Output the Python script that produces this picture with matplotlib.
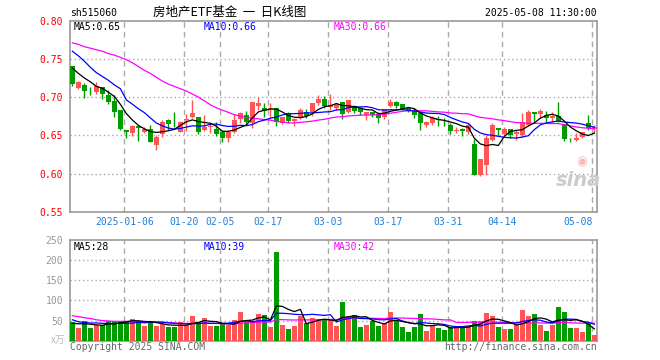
''' sina style daily k-line chart for 515060'''
import matplotlib
matplotlib.use('Agg')
import matplotlib.pyplot as plt
import numpy as np
import pandas as pd

RED = '#ff5555'
GREEN = '#009c00'

# daily prices 2024-12-23 .. 2025-05-08
opens = [0.7408, 0.7120, 0.7159, 0.7110, 0.7071, 0.7133, 0.7028, 0.6949, 0.6831, 0.6568,
         0.6533, 0.6616, 0.6542, 0.6581, 0.6372, 0.6520, 0.6695, 0.6678, 0.6542, 0.6700,
         0.6739, 0.6739, 0.6573, 0.6608, 0.6581, 0.6538, 0.6468, 0.6542, 0.6708, 0.6765,
         0.6660, 0.6888, 0.6857, 0.6840, 0.6857, 0.6665, 0.6791, 0.6686, 0.6721, 0.6800,
         0.6809, 0.6927, 0.6975, 0.6875, 0.6861, 0.6931, 0.6809, 0.6888, 0.6861, 0.6765,
         0.6800, 0.6778, 0.6743, 0.6883, 0.6931, 0.6905, 0.6853, 0.6818, 0.6787, 0.6634,
         0.6660, 0.6713, 0.6713, 0.6638, 0.6560, 0.6581, 0.6538, 0.6385, 0.5987, 0.6109,
         0.6437, 0.6599, 0.6512, 0.6581, 0.6512, 0.6503, 0.6634, 0.6800, 0.6778, 0.6765,
         0.6721, 0.6752, 0.6643, 0.6438, 0.6437, 0.6481, 0.6665, 0.6581]
highs = [0.7410, 0.7211, 0.7181, 0.7137, 0.7194, 0.7135, 0.7093, 0.7028, 0.6833, 0.6570,
         0.6634, 0.6625, 0.6608, 0.6634, 0.6503, 0.6695, 0.6713, 0.6800, 0.6691, 0.6774,
         0.6962, 0.6740, 0.6765, 0.6656, 0.6678, 0.6568, 0.6568, 0.6774, 0.6809, 0.6818,
         0.6936, 0.7006, 0.6918, 0.6918, 0.6858, 0.6743, 0.6800, 0.6730, 0.6853, 0.6840,
         0.6918, 0.7028, 0.7019, 0.7045, 0.6927, 0.6940, 0.6962, 0.6896, 0.6870, 0.6805,
         0.6801, 0.6809, 0.6844, 0.6975, 0.6949, 0.6906, 0.6875, 0.6853, 0.6788, 0.6686,
         0.6756, 0.6752, 0.6730, 0.6656, 0.6608, 0.6590, 0.6656, 0.6450, 0.6188, 0.6503,
         0.6656, 0.6600, 0.6608, 0.6582, 0.6568, 0.6787, 0.6831, 0.6801, 0.6844, 0.6818,
         0.6800, 0.6940, 0.6644, 0.6468, 0.6525, 0.6547, 0.6765, 0.6634]
lows = [0.7150, 0.7107, 0.6993, 0.7032, 0.7041, 0.6975, 0.6910, 0.6743, 0.6568, 0.6459,
        0.6494, 0.6428, 0.6529, 0.6407, 0.6306, 0.6481, 0.6564, 0.6612, 0.6538, 0.6551,
        0.6730, 0.6512, 0.6560, 0.6525, 0.6494, 0.6415, 0.6415, 0.6533, 0.6660, 0.6634,
        0.6599, 0.6826, 0.6743, 0.6721, 0.6625, 0.6643, 0.6660, 0.6625, 0.6713, 0.6730,
        0.6756, 0.6896, 0.6853, 0.6831, 0.6831, 0.6708, 0.6796, 0.6796, 0.6765, 0.6704,
        0.6739, 0.6660, 0.6708, 0.6866, 0.6853, 0.6831, 0.6805, 0.6730, 0.6568, 0.6612,
        0.6634, 0.6621, 0.6625, 0.6520, 0.6529, 0.6494, 0.6512, 0.5978, 0.5969, 0.5978,
        0.6424, 0.6490, 0.6503, 0.6468, 0.6437, 0.6481, 0.6625, 0.6665, 0.6730, 0.6678,
        0.6678, 0.6678, 0.6424, 0.6407, 0.6424, 0.6468, 0.6568, 0.6525]
closes = [0.7172, 0.7194, 0.7085, 0.7104, 0.7146, 0.7045, 0.6940, 0.6809, 0.6586, 0.6542,
          0.6625, 0.6590, 0.6581, 0.6411, 0.6481, 0.6673, 0.6651, 0.6673, 0.6673, 0.6717,
          0.6796, 0.6542, 0.6612, 0.6621, 0.6520, 0.6468, 0.6538, 0.6700, 0.6791, 0.6678,
          0.6936, 0.6923, 0.6818, 0.6861, 0.6678, 0.6743, 0.6691, 0.6713, 0.6831, 0.6756,
          0.6918, 0.6975, 0.6888, 0.6896, 0.6905, 0.6783, 0.6962, 0.6818, 0.6809, 0.6805,
          0.6765, 0.6721, 0.6844, 0.6936, 0.6883, 0.6840, 0.6818, 0.6765, 0.6665, 0.6678,
          0.6721, 0.6704, 0.6708, 0.6560, 0.6573, 0.6555, 0.6634, 0.5987, 0.6188, 0.6459,
          0.6634, 0.6568, 0.6581, 0.6503, 0.6538, 0.6678, 0.6809, 0.6778, 0.6818, 0.6721,
          0.6752, 0.6691, 0.6450, 0.6433, 0.6468, 0.6538, 0.6599, 0.6603]
# volume in 10k lots
volumes = [45.8, 30.8, 50.0, 30.8, 39.2, 40.0, 48.3, 48.3, 48.3, 48.3,
           55.0, 47.5, 37.5, 47.5, 37.5, 40.8, 33.3, 33.3, 45.8, 39.2,
           62.5, 45.8, 57.5, 35.8, 35.8, 40.8, 40.0, 52.5, 70.8, 46.7,
           45.8, 67.5, 64.2, 33.3, 220.8, 40.0, 30.0, 37.5, 60.8, 44.2,
           57.5, 54.2, 50.8, 50.4, 37.5, 95.0, 62.5, 65.0, 35.0, 40.0,
           50.0, 37.5, 45.0, 72.5, 48.3, 35.0, 22.5, 35.0, 67.5, 25.0,
           37.5, 32.5, 27.5, 35.0, 30.8, 37.5, 37.5, 50.0, 50.0, 70.0,
           60.8, 35.0, 30.0, 30.0, 40.0, 75.0, 60.8, 67.5, 40.0, 25.0,
           40.0, 82.5, 72.5, 32.5, 32.5, 22.5, 44.0, 15.0]

# moving-average values before enough days are in the window
ma5_head = [0.738, 0.731, 0.725, 0.720]
ma10_head = [0.760, 0.754, 0.747, 0.739, 0.732, 0.727, 0.722, 0.716, 0.711]
ma30_head = [0.771, 0.769, 0.766, 0.764, 0.762, 0.760, 0.757, 0.755, 0.752, 0.749,
             0.745, 0.740, 0.735, 0.731, 0.726, 0.721, 0.717, 0.714, 0.711, 0.708,
             0.704, 0.700, 0.695, 0.690, 0.686, 0.683, 0.680, 0.677, 0.675]
vma5_head = [43, 42, 42, 41]
vma10_head = [52, 47, 45, 44, 44, 43, 43, 43, 43]
vma30_head = [62, 60, 57, 55, 52, 50, 49, 48, 48, 48, 48, 48, 48, 47, 47,
              46, 45, 44, 43, 43, 43, 43, 43, 43, 43, 42, 42, 42, 43]

tick_idx = [9, 19, 25, 33, 43, 53, 63, 72, 87]
tick_labels = ['2025-01-06', '01-20', '02-05', '02-17', '03-03',
               '03-17', '03-31', '04-14', '05-08']


def moving_avg(values, window, head):
    ''' rolling mean, first points taken from head'''
    ma = pd.Series(values).rolling(window).mean().to_numpy()
    ma[:len(head)] = head
    return ma


def px(x, y):
    ''' pixel position to figure fraction'''
    return x / 660, 1 - y / 360


def style_axes(ax):
    for s in ax.spines.values():
        s.set_color('#999999')
        s.set_linewidth(1.2)
    ax.tick_params(length=0)
    ax.set_xlim(-0.35, len(closes) - 0.5)
    for t in tick_idx:
        ax.axvline(t - 0.33, color='#aaaaaa', lw=1, ls=(0, (4, 3)), zorder=0)


def main():
    ''' main function'''
    o = np.array(opens)
    c = np.array(closes)
    x = np.arange(len(c))
    colors = np.where(c >= o, RED, GREEN)

    fig = plt.figure(figsize=(6.6, 3.6), dpi=100)
    ax = fig.add_axes([0.1065, 0.4119, 0.7985, 0.5306])
    ax2 = fig.add_axes([0.1065, 0.0536, 0.7985, 0.2797])
    mono = 'DejaVu Sans Mono'

    # price panel
    style_axes(ax)
    ax.set_ylim(0.55, 0.80)
    ax.set_yticks([0.55, 0.60, 0.65, 0.70, 0.75, 0.80])
    ax.set_yticklabels(['%.2f' % v for v in ax.get_yticks()],
                       color='red', family=mono, fontsize=7)
    for v in [0.60, 0.65, 0.70, 0.75]:
        ax.axhline(v, color='#aaaaaa', lw=1, ls=(0, (1, 2)), zorder=0)
    ax.vlines(x, lows, highs, colors=colors, lw=1, zorder=2)
    body = np.maximum(np.abs(c - o), 0.0006)
    ax.bar(x, body, bottom=np.minimum(o, c), width=0.8,
           color=colors, lw=0, zorder=3)
    ax.plot(x, moving_avg(closes, 30, ma30_head), color='#ff00ff', lw=0.9, zorder=4)
    ax.plot(x, moving_avg(closes, 10, ma10_head), color='#0000ff', lw=0.9, zorder=4)
    ax.plot(x, moving_avg(closes, 5, ma5_head), color='black', lw=0.9, zorder=4)
    ax.set_xticks([t - 0.33 for t in tick_idx])
    ax.set_xticklabels(tick_labels, color='#1f7fdf', family=mono, fontsize=7)
    ax.get_xticklabels()[-1].set_ha('right')
    ax.tick_params(axis='x', pad=4)
    ax.tick_params(axis='y', pad=5)

    # volume panel
    style_axes(ax2)
    ax2.set_ylim(0, 250)
    ax2.set_yticks([50, 100, 150, 200, 250])
    ax2.set_yticklabels(['50', '100', '150', '200', '250'],
                        color='#999999', family=mono, fontsize=7)
    ax2.tick_params(axis='y', pad=5)
    ax2.set_xticks([])
    for v in [50, 100, 150, 200]:
        ax2.axhline(v, color='#aaaaaa', lw=1, ls=(0, (1, 2)), zorder=0)
    ax2.bar(x, volumes, width=0.8, color=colors, lw=0, zorder=3)
    ax2.plot(x, moving_avg(volumes, 30, vma30_head), color='#ff00ff', lw=0.9, zorder=4)
    ax2.plot(x, moving_avg(volumes, 10, vma10_head), color='#0000ff', lw=0.9, zorder=4)
    ax2.plot(x, moving_avg(volumes, 5, vma5_head), color='black', lw=0.9, zorder=4)

    # texts
    fig.text(*px(70, 13), 'sh515060', family=mono, fontsize=7, va='center')
    fig.text(*px(230, 12), '房地产ETF基金  一  日K线图',
             family=['Noto Sans CJK SC', 'DejaVu Sans'], fontsize=9,
             ha='center', va='center')
    fig.text(*px(597, 13), '2025-05-08 11:30:00', family=mono, fontsize=7,
             ha='right', va='center')
    fig.text(*px(74, 27), 'MA5:0.65', family=mono, fontsize=7, va='center')
    fig.text(*px(204, 27), 'MA10:0.66', family=mono, fontsize=7,
             va='center', color='#0000ff')
    fig.text(*px(334, 27), 'MA30:0.66', family=mono, fontsize=7,
             va='center', color='#ff00ff')
    fig.text(*px(74, 247), 'MA5:28', family=mono, fontsize=7, va='center')
    fig.text(*px(204, 247), 'MA10:39', family=mono, fontsize=7,
             va='center', color='#0000ff')
    fig.text(*px(334, 247), 'MA30:42', family=mono, fontsize=7,
             va='center', color='#ff00ff')
    fig.text(*px(65, 340), 'x万', family=['Noto Sans CJK SC', 'DejaVu Sans'],
             fontsize=7, ha='right', va='center', color='#bbbbbb')
    fig.text(*px(70, 347), 'Copyright 2025 SINA.COM', family=mono, fontsize=7,
             va='center', color='#666666')
    fig.text(*px(597, 347), 'http://finance.sina.com.cn', family=mono,
             fontsize=7, ha='right', va='center', color='#666666')
    fig.text(*px(578, 180), 'sina', fontsize=14, style='italic',
             weight='bold', ha='center', va='center', color='#cccccc')
    fig.text(*px(582, 162), '◉', fontsize=9, ha='center', va='center',
             color='#f4b8b8')

    fig.savefig('out.png', dpi=100)


if __name__ == '__main__':
    main()
